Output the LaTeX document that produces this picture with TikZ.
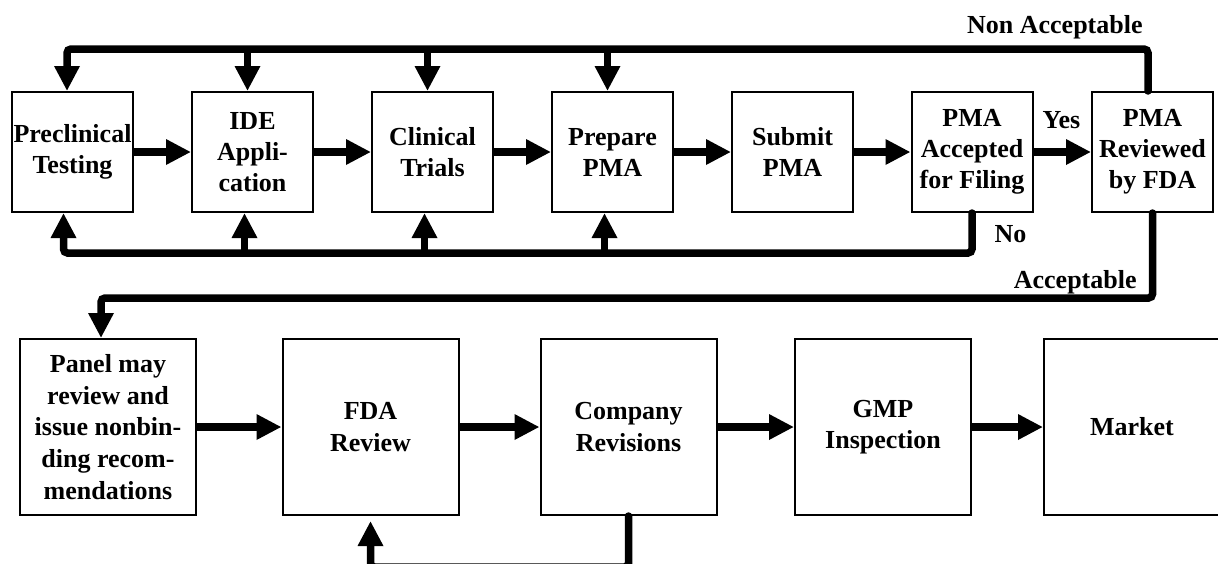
\documentclass[tikz,border=0pt]{standalone}
\usepackage{fontspec}
\setmainfont{Liberation Serif}
\usetikzlibrary{arrows.meta}

\begin{document}
\begin{tikzpicture}[x=0.5pt,y=-0.5pt,
    stage/.style={draw,line width=1pt,inner sep=0pt,align=center,
        minimum width=60.5pt,minimum height=60pt,
        font=\bfseries\fontsize{13}{15.5}\selectfont},
    bigstage/.style={stage,minimum width=88pt,minimum height=88pt,
        font=\bfseries\fontsize{13}{15.8}\selectfont},
    flow/.style={line width=3.75pt,-{Triangle[length=12.5pt,width=12pt]}},
    backline/.style={flow,rounded corners=2pt,line cap=round},
    answer/.style={inner sep=0pt,font=\bfseries\fontsize{13}{15}\selectfont}]
    \useasboundingbox (0,0) rectangle (1218,563);
    % upper row
    \node[stage] (pre) at (72.5,152) {Preclinical\\Testing};
    \node[stage] (ide) at (252.5,152) {IDE\\Appli-\\cation};
    \node[stage] (cli) at (432.5,152) {Clinical\\Trials};
    \node[stage] (prep) at (612.5,152) {Prepare\\PMA};
    \node[stage] (sub) at (792.5,152) {Submit\\PMA};
    \node[stage] (acc) at (972,152) {PMA\\Accepted\\for Filing};
    \node[stage] (rev) at (1152.5,152) {PMA\\Reviewed\\by FDA};
    % lower row
    \node[bigstage] (pan) at (108,427) {Panel may\\review and\\issue nonbin-\\ding recom-\\mendations};
    \node[bigstage] (fdar) at (370.5,427) {FDA\\Review};
    \node[bigstage] (comp) at (628.5,427) {Company\\Revisions};
    \node[bigstage] (gmp) at (883,427) {GMP\\Inspection};
    \node[bigstage] (mkt) at (1132,427) {Market};
    % labels
    \node[answer,anchor=base east] (nonacc) at (1143,33) {Non Acceptable};
    \node[answer,anchor=base] (yes) at (1061.5,128) {Yes};
    \node[answer,anchor=base] (no) at (1010.5,242) {No};
    \node[answer,anchor=base east] (accept) at (1137,288) {Acceptable};

    \foreach \a/\b in {pre/ide,ide/cli,cli/prep,prep/sub,sub/acc,acc/rev,pan/fdar,fdar/comp,comp/gmp,gmp/mkt}
        \draw[flow] (\a) -- (\b);

    \draw[backline] ([xshift=-2.25pt]rev.north) -- ++(0,-42) coordinate (nacorner) -| ([xshift=-2.75pt]pre.north);
    \foreach \n in {ide,cli,prep}
        \draw[flow] ([xshift=-2.5pt]\n.north |- nacorner) -- ([xshift=-2.5pt]\n.north);

    \draw[backline] (acc.south) -- ++(0,40) coordinate (nocorner) -| ([xshift=-4.5pt]pre.south);
    \foreach \n in {ide,cli,prep}
        \draw[flow] ([xshift=-4pt]\n.south |- nocorner) -- ([xshift=-4pt]\n.south);

    \draw[backline] (rev.south) -- ++(0,85) -| ([xshift=-3.5pt]pan.north);
    \draw[backline,shorten >=2.5pt] (comp.south) -- ++(0,51) -| (fdar.south);
\end{tikzpicture}
\end{document}
